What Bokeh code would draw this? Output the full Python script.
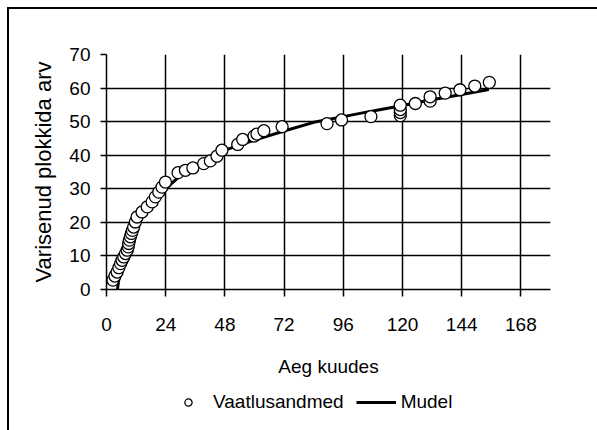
from bokeh.plotting import figure
from bokeh.layouts import column
from bokeh.models import FixedTicker, Legend, LegendItem
from bokeh.embed import file_html
from bokeh.resources import INLINE

FONT = "Liberation Sans"

# Observed cumulative number of collapsed blocks vs. time in months
obs_months = [2.6, 3.4, 4.3, 5.0, 5.7, 6.3, 7.0, 7.7, 8.4, 8.8,
              9.0, 9.3, 9.7, 10.1, 10.5, 11.0, 11.7, 12.4, 14.4, 16.5,
              18.5, 19.8, 21.2, 22.5, 23.9, 29.0, 32.0, 35.0, 39.4, 42.1,
              44.8, 46.8, 53.2, 55.2, 59.8, 61.0, 63.8, 71.2, 89.4, 95.3,
              107.2, 119.1, 119.1, 119.1, 119.1, 125.2, 131.2, 131.2, 137.3, 143.3,
              149.3, 155.2]
obs_count = [2.8, 4.0, 5.2, 6.5, 7.7, 8.7, 9.7, 10.7, 11.7, 12.7,
             13.7, 14.7, 15.7, 16.7, 17.6, 18.6, 20.1, 21.6, 23.1, 24.6,
             26.1, 27.6, 29.0, 30.5, 32.0, 34.8, 35.5, 36.2, 37.5, 38.3,
             39.7, 41.5, 43.2, 44.7, 45.7, 46.3, 47.3, 48.5, 49.4, 50.5,
             51.5, 51.8, 52.7, 53.6, 54.9, 55.4, 56.1, 57.4, 58.5, 59.5,
             60.6, 61.7]

# Fitted model curve
model_months = [4.3, 5, 6, 8, 10, 12, 15, 18, 21, 24, 30, 36, 42, 48, 60, 72,
                84, 96, 108, 120, 132, 144, 155]
model_count = [-0.7, 3.0, 6.5, 11.5, 15.5, 19.0, 22.5, 25.5, 28.0, 30.0, 34.0, 37.0,
               39.5, 41.5, 44.5, 47.2, 49.8, 51.5, 53.2, 54.8, 56.5, 58.1, 59.6]

x_ticks = [0, 24, 48, 72, 96, 120, 144, 168]
y_ticks = [0, 10, 20, 30, 40, 50, 60, 70]

LINE_STYLE = dict(line_color="black", line_width=3)
MARKER_STYLE = dict(marker="circle", size=12, fill_color="white",
                    line_color="black", line_width=1.3)

# Main chart
p = figure(width=597, height=385, x_range=(0, 180), y_range=(0, 70),
           output_backend="svg", toolbar_location=None,
           min_border_left=106, min_border_right=47,
           min_border_top=54, min_border_bottom=96,
           background_fill_color="white", border_fill_color=None)
p.outline_line_color = None

# Chart-area border (top and left edges) drawn behind the canvas
p.styles = {
    "background-color": "white",
    "background-image": "linear-gradient(black, black), linear-gradient(black, black)",
    "background-size": "2px 100%, 100% 2px",
    "background-position": "7px 7px, 7px 7px",
    "background-repeat": "no-repeat",
}

p.line(model_months, model_count, **LINE_STYLE)
p.scatter(obs_months, obs_count, **MARKER_STYLE)

for ax, ticks in ((p.xaxis, x_ticks), (p.yaxis, y_ticks)):
    ax.ticker = FixedTicker(ticks=ticks, minor_ticks=[])
    ax.axis_line_color = "black"
    ax.axis_line_width = 1.5
    ax.major_tick_line_color = "black"
    ax.major_tick_line_width = 1.5
    ax.major_tick_in = 0
    ax.minor_tick_line_color = None
    ax.major_label_text_font = FONT
    ax.major_label_text_font_size = "19px"
    ax.major_label_text_color = "black"
    ax.axis_label_text_font = FONT
    ax.axis_label_text_font_size = "19px"
    ax.axis_label_text_font_style = "normal"
    ax.axis_label_text_color = "black"

p.xaxis.axis_label = "Aeg kuudes"
p.xaxis.major_tick_out = 7
p.xaxis.major_label_standoff = 21
p.xaxis.axis_label_standoff = 22

p.yaxis.axis_label = "Varisenud plokkida arv"
p.yaxis.axis_label_text_font_size = "22px"
p.yaxis.major_tick_out = 6
p.yaxis.major_label_standoff = 10
p.yaxis.axis_label_standoff = 10

for g in (p.xgrid, p.ygrid):
    g.grid_line_color = "black"
    g.grid_line_width = 1.5
p.xgrid.ticker = FixedTicker(ticks=x_ticks[1:])
p.ygrid.ticker = FixedTicker(ticks=y_ticks[1:])

# Legend strip below the chart. Its frame lines up with the chart's frame;
# the series are repeated here outside the strip's view range so that the
# legend can show their glyph styles.
leg = figure(width=597, height=45, x_range=(-2, -1), y_range=(-2, -1),
             x_axis_type=None, y_axis_type=None,
             output_backend="svg", toolbar_location=None,
             min_border=0, background_fill_color=None, border_fill_color=None)
leg.outline_line_color = None
leg.styles = {
    "background-color": "white",
    "background-image": "linear-gradient(black, black)",
    "background-size": "2px 100%",
    "background-position": "7px 0px",
    "background-repeat": "no-repeat",
}
leg_model = leg.line(model_months, model_count, **LINE_STYLE)
leg_obs = leg.scatter(obs_months, obs_count, **MARKER_STYLE)

legend = Legend(items=[LegendItem(label="Vaatlusandmed", renderers=[leg_obs]),
                       LegendItem(label="Mudel", renderers=[leg_model])],
                orientation="horizontal", location=(62, 17),
                glyph_width=40, glyph_height=18, label_height=20,
                label_standoff=5, spacing=12, padding=0, margin=0,
                border_line_color=None, background_fill_alpha=0,
                label_text_font=FONT, label_text_font_size="19px",
                label_text_color="black")
leg.add_layout(legend, "center")

page = column(p, leg, spacing=0)
open("out.html", "w").write(file_html(page, INLINE))
